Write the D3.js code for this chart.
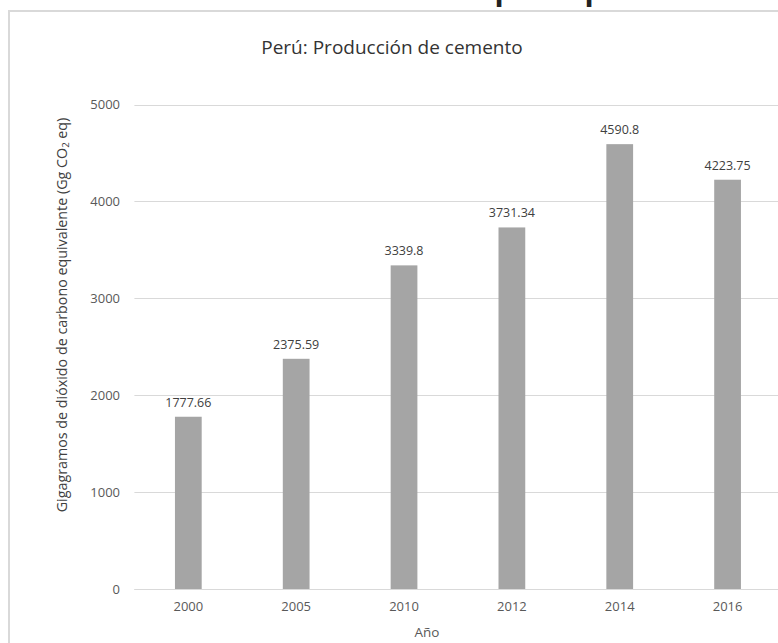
<!DOCTYPE html>
<html>
<head>
<meta charset="utf-8">
<script src="https://cdn.jsdelivr.net/npm/d3@7"></script>
<style>
  html, body { margin: 0; padding: 0; background: #fff; }
  svg { display: block; }
  text { font-family: "Open Sans", "Noto Sans", sans-serif; }
</style>
</head>
<body>
<svg id="chart" width="778" height="643"></svg>
<script>
// Cement production emissions, Peru
const years = ["2000", "2005", "2010", "2012", "2014", "2016"];
const emissions = [1777.66, 2375.59, 3339.8, 3731.34, 4590.8, 4223.75];
const valueLabels = ["1777.66", "2375.59", "3339.8", "3731.34", "4590.8", "4223.75"];
const yTicks = [0, 1000, 2000, 3000, 4000, 5000];

const chartTitle = "Perú: Producción de cemento";
const xTitle = "Año";

const svg = d3.select("#chart");
const W = 778, H = 643;

// page heading above the chart frame (only its descenders fall inside the view)
svg.append("text")
  .attr("x", 504).attr("y", 0)
  .attr("text-anchor", "middle")
  .attr("font-size", 30).attr("font-weight", "bold")
  .attr("fill", "#222")
  .text("p");
svg.append("text")
  .attr("x", 594).attr("y", 0)
  .attr("text-anchor", "middle")
  .attr("font-size", 30).attr("font-weight", "bold")
  .attr("fill", "#222")
  .text("p");

// chart frame
svg.append("rect")
  .attr("x", 9).attr("y", 11)
  .attr("width", W + 20).attr("height", H + 20)
  .attr("fill", "#fff")
  .attr("stroke", "#d9d9d9")
  .attr("stroke-width", 2);

const plot = { left: 134.4, right: 781.5, top: 104.5, bottom: 589 };

const x = d3.scaleBand()
  .domain(years)
  .range([plot.left, plot.right])
  .paddingInner(0.752)
  .paddingOuter(0.376);

const y = d3.scaleLinear()
  .domain([0, 5000])
  .range([plot.bottom, plot.top]);

// horizontal gridlines
svg.append("g")
  .selectAll("line")
  .data(yTicks)
  .join("line")
  .attr("x1", plot.left).attr("x2", W)
  .attr("y1", d => Math.round(y(d)) + 0.5)
  .attr("y2", d => Math.round(y(d)) + 0.5)
  .attr("stroke", "#d9d9d9")
  .attr("stroke-width", 1);

// y axis tick labels
const yAxis = d3.axisLeft(y).tickValues(yTicks).tickSize(0).tickPadding(0).tickFormat(d3.format("d"));
const gy = svg.append("g")
  .attr("transform", `translate(120,0)`)
  .call(yAxis);
gy.select(".domain").remove();
gy.selectAll("text")
  .attr("font-family", "'Open Sans', 'Noto Sans', sans-serif")
  .attr("font-size", 13)
  .attr("fill", "#595959");

// bars
svg.append("g")
  .selectAll("rect")
  .data(years)
  .join("rect")
  .attr("x", d => x(d))
  .attr("width", x.bandwidth())
  .attr("y", (d, i) => y(emissions[i]))
  .attr("height", (d, i) => y(0) - y(emissions[i]))
  .attr("fill", "#a5a5a5");

// value labels
svg.append("g")
  .selectAll("text")
  .data(years)
  .join("text")
  .attr("x", d => x(d) + x.bandwidth() / 2)
  .attr("y", (d, i) => y(emissions[i]) - 10)
  .attr("text-anchor", "middle")
  .attr("font-size", 12.5)
  .attr("fill", "#404040")
  .text((d, i) => valueLabels[i]);

// x axis baseline redrawn over bars
svg.append("line")
  .attr("x1", plot.left).attr("x2", W)
  .attr("y1", Math.round(y(0)) + 0.5).attr("y2", Math.round(y(0)) + 0.5)
  .attr("stroke", "#d9d9d9");

// x axis tick labels
const xAxis = d3.axisBottom(x).tickSize(0).tickPadding(0);
const gx = svg.append("g")
  .attr("transform", `translate(0,602)`)
  .call(xAxis);
gx.select(".domain").remove();
gx.selectAll("text")
  .attr("font-family", "'Open Sans', 'Noto Sans', sans-serif")
  .attr("font-size", 13)
  .attr("fill", "#595959");

// chart title
svg.append("text")
  .attr("x", 392).attr("y", 54)
  .attr("text-anchor", "middle")
  .attr("font-size", 19)
  .attr("fill", "#333")
  .text(chartTitle);

// x axis title
svg.append("text")
  .attr("x", 427).attr("y", 637)
  .attr("text-anchor", "middle")
  .attr("font-size", 13.5)
  .attr("fill", "#595959")
  .text(xTitle);

// y axis title with subscript
const yt = svg.append("text")
  .attr("transform", "translate(67,315) rotate(-90)")
  .attr("text-anchor", "middle")
  .attr("font-size", 14.3)
  .attr("fill", "#404040");
yt.append("tspan").text("Gigagramos de dióxido de carbono equivalente (Gg CO");
yt.append("tspan").attr("font-size", 9.5).attr("dy", 2).text("2");
yt.append("tspan").attr("dy", -2).text(" eq)");
</script>
</body>
</html>
